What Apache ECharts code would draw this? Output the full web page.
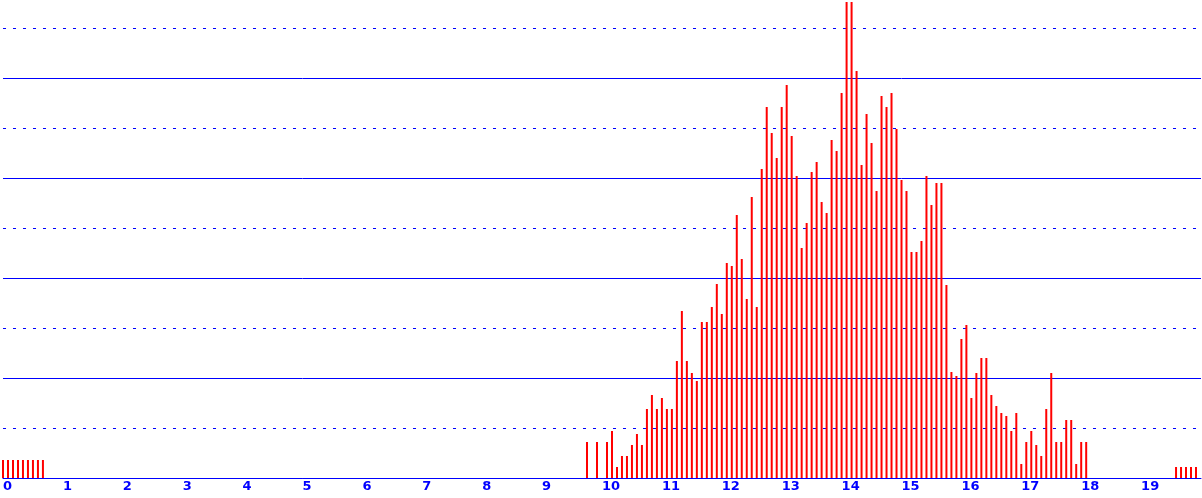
<!DOCTYPE html>
<html>
<head>
<meta charset="utf-8">
<script src="https://cdn.jsdelivr.net/npm/echarts@6/dist/echarts.min.js"></script>
<style>
html,body{margin:0;padding:0;background:#fff;overflow:hidden;}
#wrap{position:relative;width:1202px;height:498px;overflow:hidden;}
#chart{position:absolute;left:0;top:-22px;width:1202px;height:520px;}
</style>
</head>
<body>
<div id="wrap"><div id="chart"></div></div>
<script>
// Histogram: bins of width 1/12 on an x range 0..20
const binsPerUnit = 12;
const xTickLabels = ['0','1','2','3','4','5','6','7','8','9','10','11','12','13','14','15','16','17','18','19'];

// left tail (bins 0..8)
const leftTailStartBin = 0;
const leftTailValues = [3.6, 3.6, 3.6, 3.6, 3.6, 3.6, 3.6, 3.6, 3.6];

// main body (bins 117..217, i.e. x = 9.75 .. 18.08)
const mainStartBin = 117;
const mainValues = [
  7.2, 0, 7.2, 0, 7.2, 9.4, 2.2, 4.4, 4.4, 6.6, 8.8, 6.6,          // 117-128
  13.8, 16.6, 13.8, 16, 13.8, 13.8, 23.4, 33.4, 23.4, 21, 19.4, 31.2, // 129-140
  31.2, 34.2, 38.8, 32.8, 43, 42.4, 52.6, 43.8, 35.8, 56.2, 34.2, 61.8, // 141-152
  74.2, 69, 64, 74.2, 78.6, 68.4, 60.4, 46, 51, 61.2, 63.2, 55.2,     // 153-164
  53, 67.6, 65.4, 77, 95.2, 95.2, 81.4, 62.6, 72.8, 67, 57.4, 76.4,   // 165-176
  74.2, 77, 69.8, 59.6, 57.4, 45.2, 45.2, 47.4, 60.4, 54.6, 59, 59,   // 177-188
  38.6, 21.2, 20.4, 27.8, 30.6, 16, 21, 24, 24, 16.6, 14.4, 13,       // 189-200
  12.4, 9.4, 13, 2.8, 7.2, 9.4, 6.6, 4.4, 13.8, 21, 7.2, 7.2,         // 201-212
  11.6, 11.6, 2.8, 7.2, 7.2                                           // 213-217
];

// right tail (bins 235..239)
const rightTailStartBin = 235;
const rightTailValues = [2.2, 2.2, 2.2, 2.2, 2.2];

function toPoints(startBin, values) {
  const pts = [];
  values.forEach(function (v, k) {
    if (v > 0) pts.push([(startBin + k) / binsPerUnit, v]);
  });
  return pts;
}

const seriesData = []
  .concat(toPoints(leftTailStartBin, leftTailValues))
  .concat(toPoints(mainStartBin, mainValues))
  .concat(toPoints(rightTailStartBin, rightTailValues));

const chart = echarts.init(document.getElementById('chart'), null, {renderer: 'canvas'});
chart.setOption({
  backgroundColor: '#ffffff',
  animation: false,
  grid: {left: 1, right: 1, top: 0, bottom: 20, containLabel: false},
  xAxis: {
    type: 'value',
    min: 0,
    max: 20,
    interval: 1,
    axisLine: {show: true, lineStyle: {color: '#0000ff', width: 1}},
    axisTick: {show: false},
    splitLine: {show: false},
    axisLabel: {
      show: true,
      align: 'left',
      margin: 2,
      color: '#0000ff',
      fontFamily: 'DejaVu Sans',
      fontWeight: 'bold',
      fontSize: 13,
      showMaxLabel: false,
      formatter: function (v) {
        const idx = Math.round(v);
        return xTickLabels[idx] !== undefined ? xTickLabels[idx] : '';
      }
    }
  },
  yAxis: {
    type: 'value',
    min: 0,
    max: 100,
    interval: 20,
    axisLine: {show: false},
    axisTick: {show: false},
    axisLabel: {show: false},
    splitLine: {show: true, lineStyle: {color: '#0000ff', width: 1, type: 'solid'}},
    minorTick: {show: false, splitNumber: 2},
    minorSplitLine: {show: true, lineStyle: {color: '#0000ff', width: 1, type: [3, 7]}}
  },
  series: [{
    type: 'bar',
    data: seriesData,
    barWidth: 2,
    itemStyle: {color: '#ff0000'},
    emphasis: {disabled: true}
  }]
});
</script>
</body>
</html>
